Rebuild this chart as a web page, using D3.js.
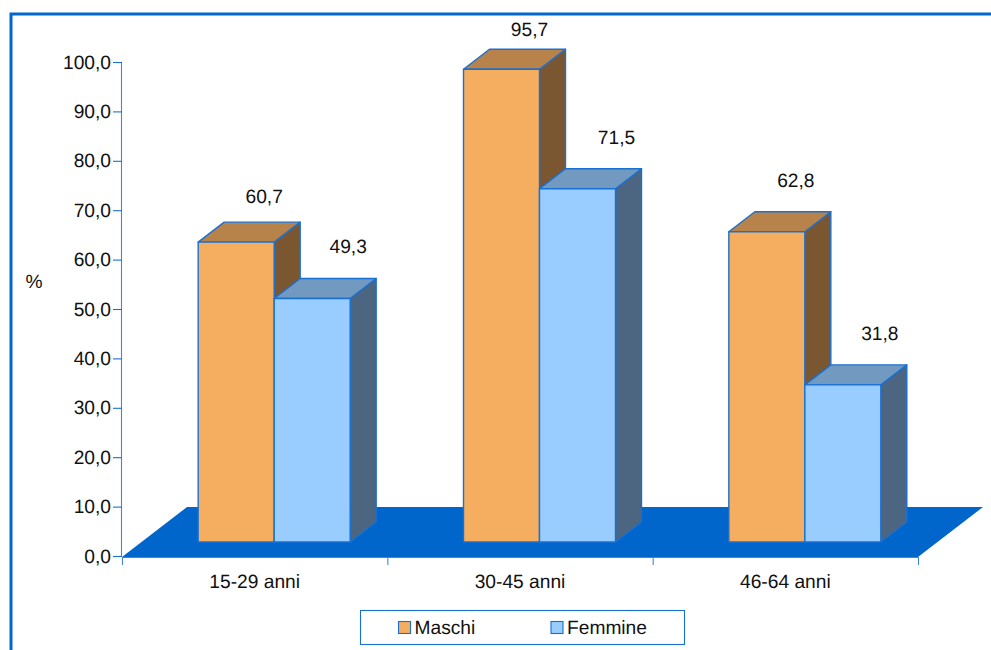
<!DOCTYPE html>
<html>
<head>
<meta charset="utf-8">
<script src="https://cdnjs.cloudflare.com/ajax/libs/d3/7.8.5/d3.min.js"></script>
<style>
html,body{margin:0;padding:0;background:#fff;overflow:hidden}
svg{display:block}
text{font-family:"Liberation Sans",Arial,sans-serif;fill:#111;text-rendering:geometricPrecision}
</style>
</head>
<body>
<svg id="chart" width="991" height="650"></svg>
<script>
// Chart data
const categories = ["15-29 anni", "30-45 anni", "46-64 anni"];
const maschi = [60.7, 95.7, 62.8];
const femmine = [49.3, 71.5, 31.8];
const seriesNames = ["Maschi", "Femmine"];
const yTicks = [0, 10, 20, 30, 40, 50, 60, 70, 80, 90, 100];

// Layout constants
const BLUE = "#0066cc";
const LINE = "#1a70d2";
const AXIS = "#3f86de";
const FONT = 19.2;
const floorDx = 65, floorDy = -50;   // depth of the floor
const barDx = 26, barDy = -20;       // depth of a bar
const barLift = 15;                  // bars stand this far up the floor
const barShift = barLift * floorDx / -floorDy;
const barW = 76;
const palette = [
  {front: "#f5ae5f", top: "#b8834a", side: "#7a5730"},
  {front: "#99ccff", top: "#7299bf", side: "#4c6580"}
];
// Distance of each value label from its bar's front top corner, by series then category
const labelDx = [[66, 66, 67], [74, 77, 75]];
const labelDy = [[-44.5, -38.5, -50.5], [-50.5, -50.5, -50.5]];

const svg = d3.select("#chart");
const fmt = v => d3.format(".1f")(v).replace(".", ",");

const y = d3.scaleLinear().domain([0, 100]).range([557, 63]);
const xEdge = d3.scaleLinear().domain([0, categories.length]).range([122, 918]);
const xCat = d3.scaleBand().domain(categories).range([122, 918]);

// Outer frame: only the top and left edges fall inside the page
svg.append("path")
  .attr("d", "M11,650V14H991")
  .attr("fill", "none").attr("stroke", BLUE).attr("stroke-width", 3);

// Floor
svg.append("path")
  .attr("d", d3.line()([
    [xEdge(0), y(0)],
    [xEdge(0) + floorDx, y(0) + floorDy],
    [xEdge(3) + floorDx, y(0) + floorDy],
    [xEdge(3), y(0)]
  ]) + "Z")
  .attr("fill", BLUE);

// Value axis
const yAxis = svg.append("g")
  .attr("transform", "translate(122,0)")
  .call(d3.axisLeft(y).offset(-0.5).tickValues(yTicks).tickSize(9).tickSizeOuter(0).tickPadding(2).tickFormat(fmt));
yAxis.selectAll("path,line").attr("stroke", AXIS).attr("stroke-width", 1.1);
yAxis.selectAll("line").attr("stroke", LINE);
yAxis.attr("font-family", null).attr("font-size", null);
yAxis.selectAll("text").attr("font-size", FONT).attr("fill", null);

// Category axis: tick marks between groups, labels centred below
const xTickAxis = svg.append("g")
  .attr("transform", `translate(0,${y(0)})`)
  .call(d3.axisBottom(xEdge).tickValues(d3.range(categories.length + 1)).tickSize(8).tickSizeOuter(0).tickFormat(""));
xTickAxis.selectAll("path,line").attr("stroke", AXIS).attr("stroke-width", 1.1);

const xLabelAxis = svg.append("g")
  .attr("transform", `translate(0,${y(0)})`)
  .call(d3.axisBottom(xCat).tickSize(0).tickPadding(17.5));
xLabelAxis.select("path").remove();
xLabelAxis.attr("font-family", null).attr("font-size", null);
xLabelAxis.selectAll("text").attr("font-size", FONT).attr("fill", null);

svg.append("text").attr("x", 34).attr("y", 282)
  .attr("text-anchor", "middle").attr("dominant-baseline", "central")
  .attr("font-size", FONT).text("%");

// Bars, drawn group by group so each front face covers the side behind it
const seriesValues = [maschi, femmine];
const baseY = y(0) - barLift;
categories.forEach((cat, c) => {
  const mid = xCat(cat) + xCat.bandwidth() / 2 + barShift;
  seriesValues.forEach((vals, s) => {
    const x0 = mid + (s - 1) * barW, x1 = x0 + barW;
    const h = y(0) - y(vals[c]);
    const top = baseY - h;
    const g = svg.append("g")
      .attr("stroke", LINE).attr("stroke-width", 1.4).attr("stroke-linejoin", "round");
    g.append("path")
      .attr("fill", palette[s].side)
      .attr("d", d3.line()([[x1, top], [x1 + barDx, top + barDy], [x1 + barDx, baseY + barDy], [x1, baseY]]) + "Z");
    g.append("path")
      .attr("fill", palette[s].top)
      .attr("d", d3.line()([[x0, top], [x0 + barDx, top + barDy], [x1 + barDx, top + barDy], [x1, top]]) + "Z");
    g.append("rect")
      .attr("x", x0).attr("y", top).attr("width", barW).attr("height", h)
      .attr("fill", palette[s].front);
  });
});

// Value labels go on top of every bar
categories.forEach((cat, c) => {
  const mid = xCat(cat) + xCat.bandwidth() / 2 + barShift;
  seriesValues.forEach((vals, s) => {
    const x0 = mid + (s - 1) * barW;
    const top = baseY - (y(0) - y(vals[c]));
    svg.append("text")
      .attr("x", x0 + labelDx[s][c]).attr("y", top + labelDy[s][c])
      .attr("text-anchor", "middle").attr("dominant-baseline", "central")
      .attr("font-size", FONT).text(fmt(vals[c]));
  });
});

// Legend
svg.append("rect")
  .attr("x", 360.5).attr("y", 610.5).attr("width", 324).attr("height", 34)
  .attr("fill", "#fff").attr("stroke", LINE).attr("stroke-width", 1.1);
const legendX = [398.5, 551];
seriesNames.forEach((name, s) => {
  svg.append("rect")
    .attr("x", legendX[s]).attr("y", 621.5).attr("width", 12).attr("height", 12)
    .attr("fill", palette[s].front).attr("stroke", LINE).attr("stroke-width", 1.1);
  svg.append("text")
    .attr("x", legendX[s] + 16).attr("y", 628)
    .attr("dominant-baseline", "central")
    .attr("font-size", FONT).text(name);
});
</script>
</body>
</html>
